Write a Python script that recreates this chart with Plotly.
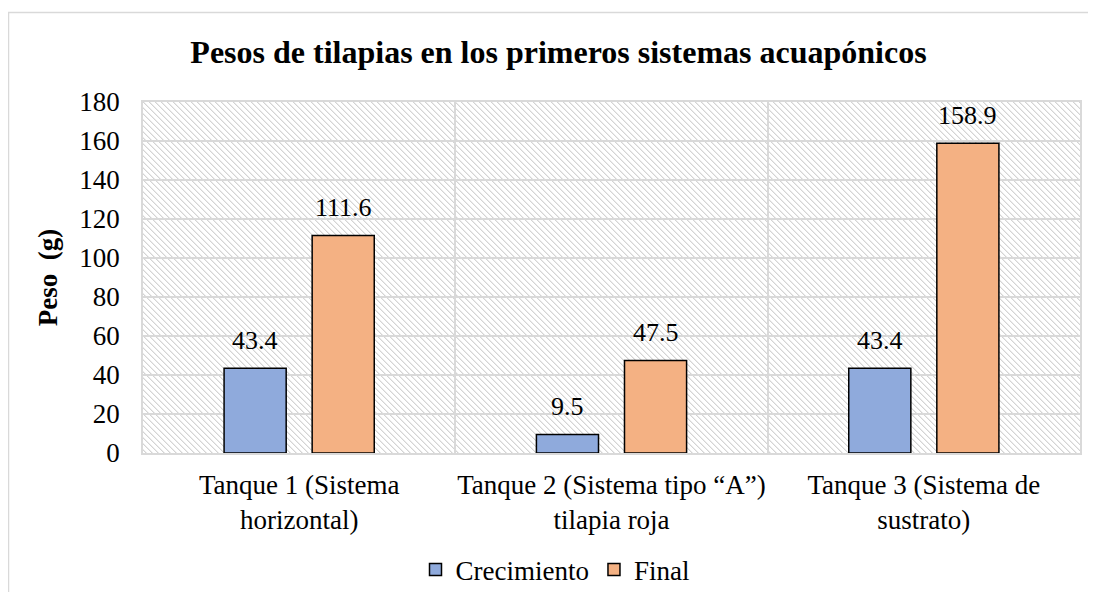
import base64
import plotly.graph_objects as go

categories = ["Tanque 1 (Sistema<br>horizontal)",
              "Tanque 2 (Sistema tipo “A”)<br>tilapia roja",
              "Tanque 3 (Sistema de<br>sustrato)"]
crecimiento = [43.4, 9.5, 43.4]
final = [111.6, 47.5, 158.9]
series_names = ["Crecimiento", "Final"]
y_ticks = [0, 20, 40, 60, 80, 100, 120, 140, 160, 180]

FONT = "Liberation Serif"
# page body has an 8px margin, so the figure is 8px smaller on each side
W, H = 1080, 584
L, R, T, B = 135, 8, 94, 139
PW, PH = W - L - R, H - T - B

# hatched background texture (light downward diagonal)
tile = 6
cells = "".join(
    f'<rect x="{i}" y="{i}" width="1" height="1" fill="#d4d4d4"/>'
    f'<rect x="{(i + 1) % tile}" y="{i}" width="1" height="1" fill="#ebebeb"/>'
    for i in range(tile))
svg = (f'<svg xmlns="http://www.w3.org/2000/svg" width="{PW}" height="{PH}">'
       f'<defs><pattern id="p" width="{tile}" height="{tile}" patternUnits="userSpaceOnUse">'
       f'<rect width="{tile}" height="{tile}" fill="#ffffff"/>{cells}'
       '</pattern></defs>'
       f'<rect width="{PW}" height="{PH}" fill="url(#p)" shape-rendering="crispEdges"/></svg>')
img_src = "data:image/svg+xml;base64," + base64.b64encode(svg.encode()).decode()

fig = go.Figure()
fig.add_trace(go.Bar(x=categories, y=crecimiento, name=series_names[0],
                     marker=dict(color="#8faadc", line=dict(color="#000000", width=1.5))))
fig.add_trace(go.Bar(x=categories, y=final, name=series_names[1],
                     marker=dict(color="#f4b183", line=dict(color="#000000", width=1.5))))

annotations = []
for vals, shift in ((crecimiento, -44), (final, 44)):
    for c, v in zip(categories, vals):
        annotations.append(dict(x=c, y=v, xref="x", yref="y", text=f"{v:.1f}",
                                showarrow=False, xshift=shift, yshift=11,
                                yanchor="bottom",
                                font=dict(family=FONT, size=26, color="#000000")))

fig.update_layout(
    width=W, height=H,
    margin=dict(l=L, r=R, t=T, b=B, autoexpand=False),
    paper_bgcolor="white", plot_bgcolor="white",
    barmode="group", bargap=0.436, bargroupgap=0.295,
    font=dict(family=FONT, size=27, color="#000000"),
    title=dict(text="<b>Pesos de tilapias en los primeros sistemas acuapónicos</b>",
               x=(550.5 - L) / PW, xref="paper", xanchor="center",
               y=1 - 44 / H, yanchor="middle",
               font=dict(family=FONT, size=32, color="#000000")),
    legend=dict(orientation="h", x=(547 - L) / PW, xanchor="center",
                y=(H - B - 562) / PH, yanchor="middle",
                font=dict(family=FONT, size=27, color="#000000"),
                itemwidth=30, bgcolor="rgba(0,0,0,0)"),
    annotations=annotations,
    images=[dict(source=img_src, xref="x domain", yref="y domain", x=0, y=1,
                 sizex=1, sizey=1, xanchor="left", yanchor="top",
                 sizing="stretch", layer="below")],
    shapes=[dict(type="rect", xref="paper", yref="paper",
                 x0=(0.5 - L) / PW, x1=(W + 30 - L) / PW,
                 y0=(H - B - (H + 30)) / PH, y1=(H - B - 4.5) / PH,
                 line=dict(color="#d9d9d9", width=1.5), fillcolor="rgba(0,0,0,0)",
                 layer="below")],
)
fig.update_xaxes(type="category", tickson="boundaries", showgrid=True,
                 gridcolor="#d9d9d9", gridwidth=1.5, automargin=False, tickangle=0,
                 showline=True, linecolor="#d9d9d9", linewidth=1.5, mirror=True,
                 ticks="", ticklabelstandoff=7,
                 tickfont=dict(family=FONT, size=27, color="#000000"))
fig.update_yaxes(range=[0, 180], tickvals=y_ticks, showgrid=True, automargin=False,
                 gridcolor="#d9d9d9", gridwidth=1.5,
                 showline=True, linecolor="#d9d9d9", linewidth=1.5, mirror=True,
                 ticks="", ticklabelstandoff=16, zeroline=False,
                 tickfont=dict(family=FONT, size=27, color="#000000"),
                 title=dict(text="<b>Peso  (g)</b>", standoff=14,
                            font=dict(family=FONT, size=27, color="#000000")))

fig.write_html("out.html")
